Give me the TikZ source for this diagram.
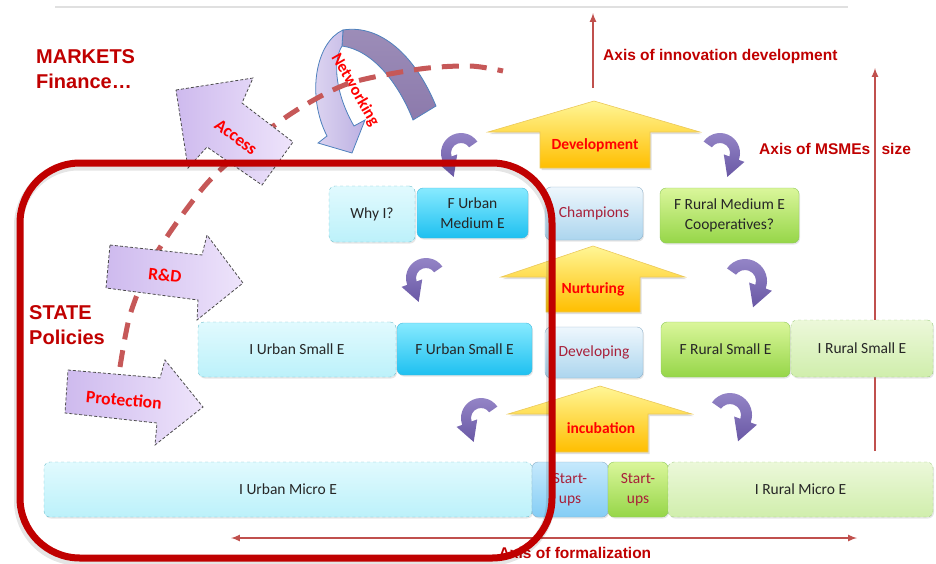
\documentclass[tikz,border=0pt]{standalone}
\usepackage{fontspec}
\setmainfont{Carlito}
\newfontfamily\arialfont{Liberation Sans}
\usetikzlibrary{shadows}

\definecolor{framered}{RGB}{192,0,0}
\definecolor{axisred}{RGB}{192,80,77}
\definecolor{dashred}{RGB}{198,88,88}
\definecolor{brightred}{RGB}{255,0,0}
\definecolor{winered}{RGB}{168,32,58}
\definecolor{cyanTop}{RGB}{135,234,255}
\definecolor{cyanBot}{RGB}{30,192,240}
\definecolor{cyanLine}{RGB}{70,185,220}
\definecolor{icyTop}{RGB}{225,250,254}
\definecolor{icyBot}{RGB}{188,241,250}
\definecolor{icyLine}{RGB}{110,190,205}
\definecolor{limeTop}{RGB}{218,246,155}
\definecolor{limeBot}{RGB}{150,214,72}
\definecolor{limeLine}{RGB}{140,200,90}
\definecolor{mintTop}{RGB}{236,248,218}
\definecolor{mintBot}{RGB}{208,238,172}
\definecolor{mintLine}{RGB}{160,205,130}
\definecolor{skyTop}{RGB}{238,247,253}
\definecolor{skyBot}{RGB}{172,213,238}
\definecolor{skyLine}{RGB}{140,175,200}
\definecolor{startTop}{RGB}{198,233,252}
\definecolor{startBot}{RGB}{132,205,245}
\definecolor{sunTop}{RGB}{255,246,150}
\definecolor{sunBot}{RGB}{255,190,0}
\definecolor{sunLine}{RGB}{235,200,90}
\definecolor{lilacA}{RGB}{206,186,238}
\definecolor{lilacB}{RGB}{238,228,251}
\definecolor{hookTop}{RGB}{150,135,200}
\definecolor{hookBot}{RGB}{105,88,165}
\definecolor{netLight}{RGB}{226,218,243}
\definecolor{netMid}{RGB}{188,176,226}
\definecolor{netDark}{RGB}{140,122,172}
\definecolor{netLine}{RGB}{79,129,189}

\tikzset{
  ebox/.style={rounded corners=6pt, align=center, inner sep=2pt, text=black!85,
    font=\fontsize{15.5}{19.5}\selectfont,
    drop shadow={opacity=.2, shadow xshift=1pt, shadow yshift=-1.5pt}},
  urbanF/.style={ebox, top color=cyanTop, bottom color=cyanBot, draw=cyanLine},
  urbanI/.style={ebox, top color=icyTop, bottom color=icyBot, draw=icyLine, dashed},
  ruralF/.style={ebox, top color=limeTop, bottom color=limeBot, draw=limeLine},
  ruralI/.style={ebox, top color=mintTop, bottom color=mintBot, draw=mintLine, dashed},
  bridge/.style={ebox, top color=skyTop, bottom color=skyBot, draw=skyLine, text=winered},
  startB/.style={ebox, top color=startTop, bottom color=startBot, draw=skyLine, text=winered},
  startG/.style={ruralF, text=winered},
  growth/.style={top color=sunTop, bottom color=sunBot, draw=sunLine, line width=.6pt,
    drop shadow={opacity=.25, shadow xshift=1.5pt, shadow yshift=-2pt}},
  redbold/.style={inner sep=0pt, text=brightred, font=\fontsize{15.5}{18}\selectfont\bfseries},
  policytext/.style={redbold, font=\fontsize{17.5}{20}\selectfont\bfseries},
  policy/.style={left color=lilacA, right color=lilacB, draw=black!70, line width=.8pt,
    dash pattern=on 3pt off 2pt},
  axis/.style={axisred, line width=2pt},
  axislabel/.style={inner sep=0pt, text=framered, font=\arialfont\fontsize{15.5}{18}\selectfont\bfseries},
  bigred/.style={inner sep=0pt, align=left, text=framered, font=\arialfont\fontsize{20}{24.5}\selectfont\bfseries},
  hook/.pic={
    \path[top color=hookTop, bottom color=hookBot]
      (-35:20) arc[start angle=-35, end angle=-200, radius=20]
      -- (-200:26) -- (-7.3,23.9) -- (-200:4) -- (-200:10)
      arc[start angle=-200, end angle=-35, radius=10] -- cycle;
  }
}

\begin{document}
\begin{tikzpicture}[x=1pt,y=-1pt,>=latex]
\useasboundingbox (0,0) rectangle (936,563);
\draw[black!12, line width=2pt] (55,7) -- (848,7);

% axes
\coordinate (innovfoot) at (593,88);
\coordinate (innovtip) at (593,13);
\draw[axis,->] (innovfoot) -- (innovtip);
\coordinate (sizefoot) at (875,451);
\coordinate (sizetip) at (875,68);
\draw[axis,->] (sizefoot) -- (sizetip);
\coordinate (formleft) at (231,538);
\coordinate (formright) at (857,538);
\draw[axis,<->] (formleft) -- (formright);
\node[axislabel, anchor=west] (innovlbl) at (603,56) {Axis of innovation development};
\node[axislabel, anchor=west] (sizelbl) at (759,149) {Axis of MSMEs\hspace{7pt} size};

\node[bigred, anchor=west] (markets) at (36,69) {MARKETS\\Finance…};
\node[bigred, anchor=west] (state) at (29,325) {STATE\\Policies};

% networking: back band, then front part with its head
\path[top color=netDark!85, bottom color=netDark, draw=netLine, line width=.8pt]
  (343,30) .. controls (380,24) and (415,55) .. (436,106)
  -- (413,120) .. controls (398,82) and (372,50) .. (342,46) -- cycle;
\path[left color=netLight, right color=netMid, draw=netLine, line width=.8pt]
  (343,30) .. controls (316,42) and (306,95) .. (327,136)
  -- (318,143) -- (352,153) -- (365,120) -- (354,126)
  .. controls (336,95) and (332,62) .. (342,46) -- cycle;
\node[redbold, font=\fontsize{16.5}{19}\selectfont\bfseries, rotate=-60] (netw) at (355,90) {Networking};

\draw[dashred, line width=5pt, dash pattern=on 17pt off 11pt]
  plot[smooth] coordinates {(120,367) (130,315) (150,265) (175,225) (210,180)
  (255,140) (300,108) (350,83) (420,69) (470,66) (503,71)};

% policy arrows
\path[policy] (176,90) -- (253,78) -- (242,103) -- (293,142) -- (262,185) -- (207,147) -- (188,168) -- cycle;
\node[policytext, rotate=-37] (access) at (236,137) {Access};
\path[policy] (110,245) -- (202,255) -- (207,235) -- (243,283) -- (197,320) -- (198,300) -- (106,288) -- cycle;
\node[policytext, rotate=-6] (rnd) at (165,275) {R\&D};
\path[policy] (68,370) -- (160,378) -- (165,360) -- (203,407) -- (155,445) -- (157,423) -- (65,413) -- cycle;
\node[policytext, rotate=-5] (protect) at (124,400) {Protection};

% growth arrows
\path[growth] (594,101) -- (700,132) -- (650,132) -- (650,168) -- (540,168) -- (540,132) -- (488,132) -- cycle;
\node[redbold] (develop) at (595,145) {Development};
\path[growth] (593,246) -- (685,277) -- (640,277) -- (640,312) -- (546,312) -- (546,277) -- (501,277) -- cycle;
\node[redbold] (nurture) at (593,289) {Nurturing};
\path[growth] (600,386) -- (692,414) -- (648,414) -- (648,452) -- (553,452) -- (553,414) -- (508,414) -- cycle;
\node[redbold] (incub) at (601,428) {incubation};

\pic at (461,153) {hook};
\pic at (426,278) {hook};
\pic at (481,418) {hook};
\pic[xscale=-1] at (720,153) {hook};
\pic[xscale=-1.1, yscale=1.1] at (745,281) {hook};
\pic[xscale=-1.1, yscale=1.1] at (730,415) {hook};

% enterprises
\node[urbanI, minimum width=86pt, minimum height=56pt] (whyI) at (372,214) {Why I?};
\node[urbanF, minimum width=111pt, minimum height=50pt] (furbmed) at (472.5,213) {F Urban\\Medium E};
\node[bridge, minimum width=98pt, minimum height=53pt] (champ) at (594,213.5) {Champions};
\node[ruralF, minimum width=139pt, minimum height=55pt] (frurmed) at (729.5,215.5) {F Rural Medium E\\Cooperatives?};
\node[urbanI, minimum width=198pt, minimum height=55pt] (iurbsmall) at (297,349.5) {I Urban Small E};
\node[urbanF, minimum width=135pt, minimum height=52pt] (furbsmall) at (464.5,349) {F Urban Small E};
\node[bridge, minimum width=98pt, minimum height=51pt] (developing) at (594,352.5) {Developing};
\node[ruralF, minimum width=129pt, minimum height=55pt] (frursmall) at (725.5,349.5) {F Rural Small E};
\node[ruralI, minimum width=142pt, minimum height=57pt] (irursmall) at (862,348.5) {I Rural Small E};
\node[urbanI, minimum width=488pt, minimum height=55pt] (iurbmicro) at (288,489.5) {I Urban Micro E};
\node[startB, minimum width=76pt, minimum height=55pt] (startb) at (570,489.5) {Start-\\ups};
\node[startG, minimum width=60pt, minimum height=55pt] (startg) at (638,489.5) {Start-\\ups};
\node[ruralI, minimum width=265pt, minimum height=55pt] (irurmicro) at (800.5,489.5) {I Rural Micro E};

\node[axislabel] (formlbl) at (575,553) {Axis of formalization};

% state frame
\draw[black, opacity=.1, line width=9pt, rounded corners=60pt] (18.5,166) rectangle (550.5,561);
\draw[framered, line width=7pt, rounded corners=60pt] (20,163) rectangle (552,558);
\end{tikzpicture}
\end{document}
